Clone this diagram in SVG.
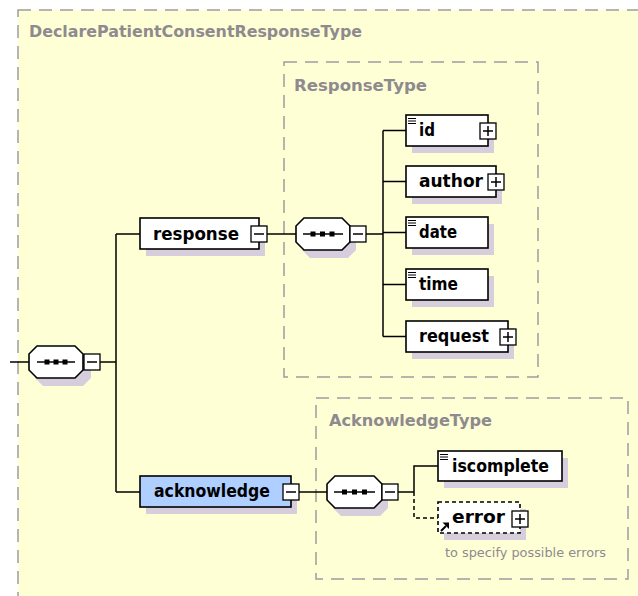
<svg xmlns="http://www.w3.org/2000/svg" width="638" height="596" viewBox="0 0 638 596">
<defs>
<style>
.box{fill:#FFFFD6;stroke:#A09CA0;stroke-width:1.5;stroke-dasharray:13 8}
.ttl{font-family:"DejaVu Sans",Verdana,sans-serif;font-weight:bold;font-size:15.5px;fill:#8E8A8E}
.lbl{font-family:"DejaVu Sans",Verdana,sans-serif;font-weight:bold;font-size:17px;fill:#000}
.note{font-family:"DejaVu Sans",Verdana,sans-serif;font-size:12px;fill:#8E8A8E}
.node{fill:#fff;stroke:#000;stroke-width:1.6}
.sel{fill:#AECFFF;stroke:#000;stroke-width:1.6}
.opt{fill:#fff;stroke:#000;stroke-width:1.6;stroke-dasharray:4 3}
.shd{fill:#D6CEDC;stroke:none}
.btn{fill:#fff;stroke:#000;stroke-width:1.3}
.sym{stroke:#000;stroke-width:1.5;fill:none}
.icn{stroke:#000;stroke-width:1;fill:none}
.con{stroke:#000;stroke-width:1.5;fill:none}
.dcon{stroke:#000;stroke-width:1.5;fill:none;stroke-dasharray:4 3}
</style>
</defs>
<rect x="0" y="0" width="638" height="596" fill="#FFFFFF"/>

<g id="DeclarePatientConsentResponseType">
<rect class="box" x="18" y="10" width="700" height="700"/>
<text class="ttl" x="29" y="37" textLength="333" lengthAdjust="spacingAndGlyphs">DeclarePatientConsentResponseType</text>
</g>

<g id="ResponseType">
<rect class="box" x="284" y="62" width="254" height="315"/>
<text class="ttl" x="294" y="91" textLength="133" lengthAdjust="spacingAndGlyphs">ResponseType</text>
</g>

<g id="AcknowledgeType">
<rect class="box" x="316" y="398" width="312" height="181"/>
<text class="ttl" x="329" y="426" textLength="163" lengthAdjust="spacingAndGlyphs">AcknowledgeType</text>
</g>

<g id="connectors">
<path class="con" d="M10 362H29"/>
<path class="con" d="M100 362H116M116 234V492M116 234H140M116 492H140"/>
<path class="con" d="M267 234H296"/>
<path class="con" d="M366 234H383M383 130.5V336.5M383 130.5H406M383 181.5H406M383 232.5H406M383 284.5H406M383 336.5H406"/>
<path class="con" d="M299 492H327"/>
<path class="con" d="M398 492H414M414 492V466H438"/>
<path class="dcon" d="M414 492V518H438"/>
</g>

<g id="seq-root">
<path class="shd" d="M43 354H83L91 362V378L83 386H43L35 378V362Z"/>
<path class="node" d="M37 346H75L83 354V370L75 378H37L29 370V354Z"/>
<path class="sym" d="M37 362H75"/>
<rect x="44.5" y="359.5" width="5" height="5"/><rect x="53.5" y="359.5" width="5" height="5"/><rect x="62.5" y="359.5" width="5" height="5"/>
<rect class="btn" x="84" y="354" width="16" height="16"/>
<path class="sym" d="M87 362H97"/>
</g>

<g id="response">
<rect class="shd" x="146" y="225" width="119" height="31"/>
<rect class="node" x="140" y="218" width="119" height="31"/>
<text class="lbl" x="153" y="240" textLength="86" lengthAdjust="spacingAndGlyphs">response</text>
<rect class="btn" x="251" y="226" width="16" height="16"/>
<path class="sym" d="M254 234H264"/>
</g>

<g id="seq-response">
<path class="shd" d="M310 226H348L356 234V250L348 258H310L302 250V234Z"/>
<path class="node" d="M304 218H342L350 226V242L342 250H304L296 242V226Z"/>
<path class="sym" d="M303 234H343"/>
<rect x="310.5" y="231.5" width="5" height="5"/><rect x="320" y="231.5" width="5" height="5"/><rect x="329.5" y="231.5" width="5" height="5"/>
<rect class="btn" x="350" y="226" width="16" height="16"/>
<path class="sym" d="M353 234H363"/>
</g>

<g id="id">
<rect class="shd" x="412" y="122" width="82" height="31"/>
<rect class="node" x="406" y="115" width="82" height="31"/>
<path class="icn" d="M408 118.5H416M408 121H416M408 123.5H416"/>
<text class="lbl" x="419" y="136" textLength="16" lengthAdjust="spacingAndGlyphs">id</text>
<rect class="btn" x="480" y="123" width="16" height="16"/>
<path class="sym" d="M483 131H493M488 126V136"/>
</g>

<g id="author">
<rect class="shd" x="412" y="173" width="90" height="31"/>
<rect class="node" x="406" y="166" width="90" height="31"/>
<text class="lbl" x="419" y="187" textLength="64" lengthAdjust="spacingAndGlyphs">author</text>
<rect class="btn" x="488" y="174" width="16" height="16"/>
<path class="sym" d="M491 182H501M496 177V187"/>
</g>

<g id="date">
<rect class="shd" x="412" y="224" width="82" height="31"/>
<rect class="node" x="406" y="217" width="82" height="31"/>
<path class="icn" d="M408 220.5H416M408 223H416M408 225.5H416"/>
<text class="lbl" x="419" y="238" textLength="38" lengthAdjust="spacingAndGlyphs">date</text>
</g>

<g id="time">
<rect class="shd" x="412" y="276" width="82" height="31"/>
<rect class="node" x="406" y="269" width="82" height="31"/>
<path class="icn" d="M408 272.5H416M408 275H416M408 277.5H416"/>
<text class="lbl" x="419" y="290" textLength="39" lengthAdjust="spacingAndGlyphs">time</text>
</g>

<g id="request">
<rect class="shd" x="412" y="328" width="102" height="31"/>
<rect class="node" x="406" y="321" width="102" height="31"/>
<text class="lbl" x="419" y="342" textLength="70" lengthAdjust="spacingAndGlyphs">request</text>
<rect class="btn" x="500" y="329" width="16" height="16"/>
<path class="sym" d="M503 337H513M508 332V342"/>
</g>

<g id="acknowledge">
<rect class="shd" x="146" y="483" width="151" height="31"/>
<rect class="sel" x="140" y="476" width="151" height="31"/>
<text class="lbl" x="154" y="497" textLength="116" lengthAdjust="spacingAndGlyphs">acknowledge</text>
<rect class="btn" x="283" y="484" width="16" height="16"/>
<path class="sym" d="M286 492H296"/>
</g>

<g id="seq-acknowledge">
<path class="shd" d="M341 484H380L388 492V508L380 516H341L333 508V492Z"/>
<path class="node" d="M335 476H374L382 484V500L374 508H335L327 500V484Z"/>
<path class="sym" d="M334 492H375"/>
<rect x="342" y="489.5" width="5" height="5"/><rect x="352" y="489.5" width="5" height="5"/><rect x="362" y="489.5" width="5" height="5"/>
<rect class="btn" x="382" y="484" width="16" height="16"/>
<path class="sym" d="M385 492H395"/>
</g>

<g id="iscomplete">
<rect class="shd" x="444" y="458" width="124" height="30"/>
<rect class="node" x="438" y="451" width="124" height="30"/>
<path class="icn" d="M440 454.5H448M440 457H448M440 459.5H448"/>
<text class="lbl" x="452" y="472" textLength="97" lengthAdjust="spacingAndGlyphs">iscomplete</text>
</g>

<g id="error">
<rect class="shd" x="444" y="509" width="82" height="31"/>
<rect class="opt" x="438" y="502" width="82" height="31"/>
<path stroke="#000" stroke-width="2" fill="none" d="M441 531L446 526"/>
<path d="M442.5 522.5H449V529Z" fill="#000"/>
<text class="lbl" x="452" y="523" textLength="53" lengthAdjust="spacingAndGlyphs">error</text>
<rect class="btn" x="512" y="511" width="16" height="16"/>
<path class="sym" d="M515 519H525M520 514V524"/>
<text class="note" x="445" y="557" textLength="161" lengthAdjust="spacingAndGlyphs">to specify possible errors</text>
</g>
</svg>
